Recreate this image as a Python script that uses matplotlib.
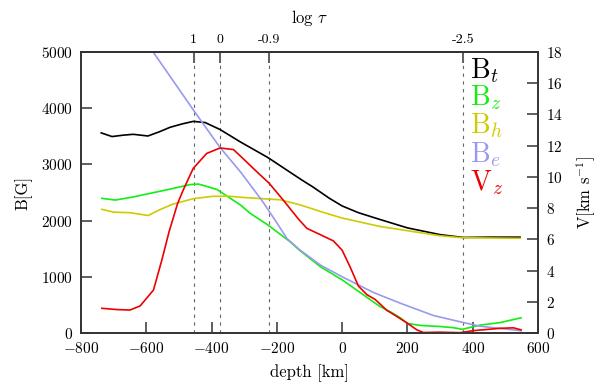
import numpy as np
import matplotlib
matplotlib.use("Agg")
import matplotlib.pyplot as plt

plt.rcParams['font.family'] = ['cmr10', 'DejaVu Serif']
plt.rcParams['mathtext.fontset'] = 'cm'
plt.rcParams['axes.formatter.use_mathtext'] = True

# B_t (total field, G)
bt_depth = [-738, -705, -670, -640, -595, -560, -527, -490, -456, -420, -374, -312, -227,
            -170, -123, -90, -40, 0, 50, 110, 200, 300, 370, 450, 545]
bt_val = [3560, 3495, 3520, 3535, 3505, 3580, 3660, 3720, 3765, 3745, 3620, 3400, 3120,
          2900, 2720, 2600, 2400, 2260, 2140, 2030, 1870, 1750, 1700, 1705, 1705]

# B_z (vertical field, G)
bz_depth = [-736, -695, -640, -588, -527, -466, -440, -384, -312, -282, -227, -160, -130,
            -67, 0, 55, 116, 150, 178, 200, 239, 300, 340, 368, 400, 423, 484, 548]
bz_val = [2395, 2365, 2420, 2485, 2560, 2640, 2650, 2555, 2280, 2130, 1920, 1625, 1470,
          1180, 945, 720, 470, 370, 270, 170, 135, 115, 95, 65, 110, 140, 185, 270]

# B_h (horizontal field, G)
bh_depth = [-736, -700, -650, -594, -560, -520, -456, -400, -350, -300, -190, -129, -60,
            0, 116, 239, 300, 368, 450, 545]
bh_val = [2200, 2150, 2140, 2090, 2190, 2290, 2390, 2430, 2435, 2410, 2370, 2280, 2150,
          2045, 1895, 1785, 1730, 1695, 1690, 1685]

# B_e (equipartition field, G)
be_depth = [-620, -579, -456, -374, -312, -246, -200, -169, -130, -67, 0, 96, 178, 280,
            368, 423, 548]
be_val = [5340, 5000, 3970, 3300, 2870, 2360, 1960, 1680, 1480, 1210, 1000, 720, 530, 310,
          190, 120, 40]

# V_z (velocity, km/s)
vz_depth = [-736, -690, -650, -619, -578, -552, -530, -504, -486, -456, -415, -374, -333,
            -300, -260, -224, -180, -134, -108, -67, -27, 0, 25, 50, 76, 101, 137, 168,
            198, 229, 249, 300, 361, 402, 484, 525, 548]
vz_val = [1.58, 1.5, 1.47, 1.73, 2.75, 4.7, 6.5, 8.3, 9.2, 10.55, 11.5, 11.85, 11.75,
          11.1, 10.3, 9.6, 8.5, 7.3, 6.7, 6.3, 5.9, 5.3, 4.2, 3.0, 2.45, 2.15, 1.45, 1.05,
          0.65, 0.2, 0.03, 0.05, 0.02, 0.15, 0.3, 0.33, 0.2]

# log tau marks
tau_depth = [-455, -375, -225, 370]
tau_labels = ['1', '0', '-0.9', '-2.5']

fig = plt.figure(figsize=(6, 3.89), dpi=100)
ax = fig.add_axes([0.135, 0.144, 0.7617, 0.7224])

spine_col = '#333333'
for d in tau_depth:
    ax.axvline(d, color='#666666', lw=0.8, ls=(0, (3, 4)), zorder=1)

ax.plot(bt_depth, bt_val, color='black', lw=1.2)
ax.plot(bz_depth, bz_val, color='#11ee11', lw=1.2)
ax.plot(bh_depth, bh_val, color='#cccc00', lw=1.2)
ax.plot(be_depth, be_val, color='#9999ee', lw=1.2)

ax.set_xlim(-800, 600)
ax.set_ylim(0, 5000)
ax.set_xticks(np.arange(-800, 601, 200))
ax.set_yticks(np.arange(0, 5001, 1000))
ax.tick_params(direction='in', length=8, width=1.1, color=spine_col, labelsize=11, pad=6)
ax.tick_params(axis='y', right=False)
ax.set_xlabel('depth [km]', fontsize=12, labelpad=6)
ax.set_ylabel('B[G]', fontsize=12, labelpad=6)

ax2 = ax.twinx()
ax2.plot(vz_depth, vz_val, color='#ee0000', lw=1.2)
ax2.set_ylim(0, 18)
ax2.set_yticks(np.arange(0, 19, 2))
ax2.tick_params(direction='in', length=8, width=1.1, color=spine_col, labelsize=11, pad=6)
ax2.set_ylabel(r'V[km s$^{-1}$]', fontsize=12, labelpad=8)

top = ax.secondary_xaxis('top')
top.set_xticks(tau_depth, tau_labels)
top.tick_params(direction='in', length=8, width=1.1, color=spine_col, labelsize=10, pad=4)
top.set_xlabel(r'log $\tau$', fontsize=12, labelpad=8)

for a in (ax, ax2):
    for s in a.spines.values():
        s.set_color(spine_col)
        s.set_linewidth(1.2)
for s in top.spines.values():
    s.set_color(spine_col)
    s.set_linewidth(1.2)

legend_items = [(r'$\mathrm{B}_t$', 'black'), (r'$\mathrm{B}_z$', '#11ee11'),
                (r'$\mathrm{B}_h$', '#cccc00'), (r'$\mathrm{B}_e$', '#9999ee'),
                (r'$\mathrm{V}_z$', '#ee0000')]
ys = [0.907, 0.811, 0.712, 0.609, 0.509]
for (txt, col), y in zip(legend_items, ys):
    ax2.text(0.851, y, txt, color=col, fontsize=20, transform=ax2.transAxes,
             ha='left', va='baseline')

fig.savefig('out.png', dpi=100)
